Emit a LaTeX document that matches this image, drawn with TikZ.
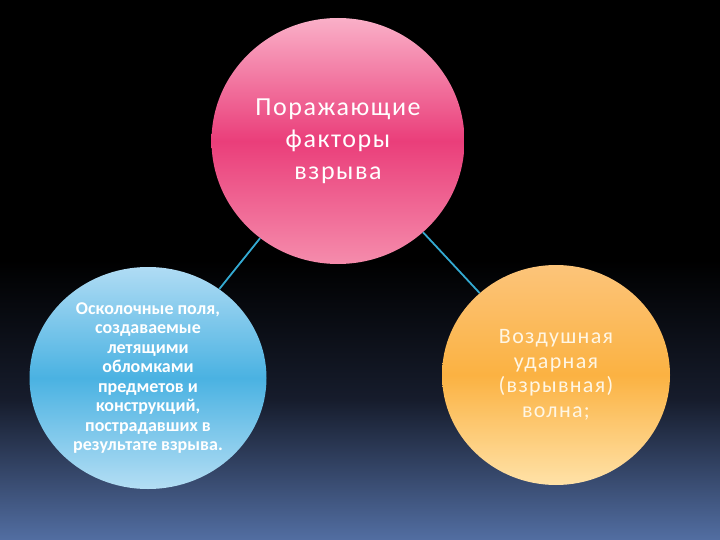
\documentclass[tikz,border=0pt]{standalone}
\usepackage{fontspec}
\setmainfont{Carlito}
\newfontfamily\widefont[LetterSpace=6]{Carlito}
\usetikzlibrary{shapes.geometric}
\definecolor{bgmid}{RGB}{22,28,44}
\definecolor{bgbottom}{RGB}{82,110,162}
\definecolor{pinktop}{RGB}{250,176,200}
\definecolor{pinkmid}{RGB}{234,62,122}
\definecolor{pinkbot}{RGB}{245,140,172}
\definecolor{bluetop}{RGB}{176,220,244}
\definecolor{bluemid}{RGB}{74,178,226}
\definecolor{bluebot}{RGB}{180,222,244}
\definecolor{orangetop}{RGB}{252,196,122}
\definecolor{orangemid}{RGB}{251,178,66}
\definecolor{orangebot}{RGB}{255,226,168}
\definecolor{linkcol}{RGB}{52,170,210}
\definecolor{cream}{RGB}{255,246,228}
\tikzset{
  bubble/.style={ellipse, inner sep=0pt, align=center, text=white},
  link/.style={draw=linkcol, line width=1.8pt}
}
\begin{document}
\begin{tikzpicture}[x=1pt,y=-1pt]
\useasboundingbox (0,0) rectangle (720,540);
\fill[black] (0,0) rectangle (720,540);
\shade[top color=black, bottom color=bgmid] (0,260) rectangle (720,400);
\shade[top color=bgmid, bottom color=bgbottom] (0,399.5) rectangle (720,540);

\node[bubble, minimum width=253pt, minimum height=246pt,
      top color=pinktop, bottom color=pinkbot, middle color=pinkmid,
      font={\widefont\fontsize{26}{32}\selectfont}] (main) at (338,141)
  {Поражающие\\факторы\\взрыва};

\node[bubble, minimum width=237pt, minimum height=222pt,
      top color=bluetop, bottom color=bluebot, middle color=bluemid,
      font={\bfseries\fontsize{18}{19.5}\selectfont}] (frag) at (148,378)
  {Осколочные поля,\\создаваемые\\летящими\\обломками\\предметов и\\конструкций,\\пострадавших в\\результате взрыва.};

\node[bubble, minimum width=228pt, minimum height=220pt, text=cream,
      top color=orangetop, bottom color=orangebot, middle color=orangemid,
      font={\widefont\fontsize{22}{24.5}\selectfont}] (wave) at (556,375)
  {Воздушная\\ударная\\(взрывная)\\волна;};

\draw[link] (main) -- (frag);
\draw[link] (main) -- (wave);
\end{tikzpicture}
\end{document}
